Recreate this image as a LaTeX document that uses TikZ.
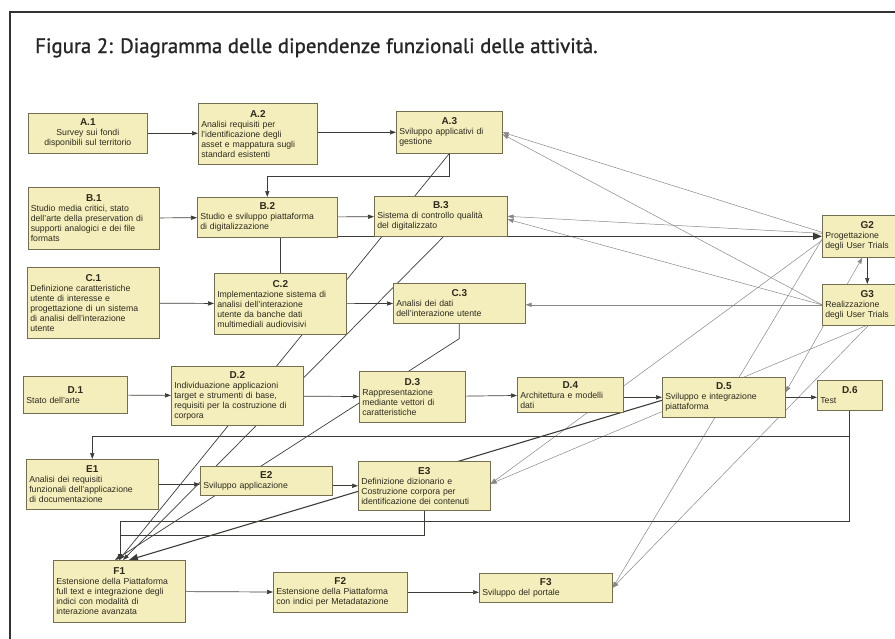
\documentclass[tikz,border=0pt]{standalone}
\usepackage{fontspec}
\setmainfont{Liberation Sans}
\newfontfamily\titlefont[FakeBold=1.2]{PT Sans}
\usepackage{tikz}
\usetikzlibrary{arrows.meta,positioning,backgrounds}

\definecolor{boxfill}{RGB}{244,238,188}
\definecolor{boxline}{RGB}{115,110,80}
\definecolor{lncol}{RGB}{60,60,55}
\definecolor{glcol}{RGB}{135,135,135}
\definecolor{txtcol}{RGB}{45,42,30}
\newcommand{\bodyfont}{\fontsize{8.7}{10}\selectfont}
\newcommand{\hd}[1]{\makebox[\hsize]{\bfseries\fontsize{10}{11}\selectfont #1}\\}

\begin{document}
\begin{tikzpicture}[x=1pt, y=-1pt,
    every node/.style={font=\bodyfont},
    act/.style={draw=boxline, fill=boxfill, line width=0.6pt, anchor=north west,
                inner sep=0pt, align=left, text=txtcol},
    e/.style={draw=lncol, line width=0.7pt, -{Triangle[length=6pt,width=4.2pt]}},
    ln/.style={draw=lncol, line width=0.7pt},
    hv/.style={draw=lncol, line width=1.1pt, -{Triangle[length=9pt,width=7pt]}},
    gl/.style={draw=glcol, line width=0.5pt, -{Triangle[length=6pt,width=4.2pt]}},
    gb/.style={draw=glcol, line width=0.5pt, {Triangle[length=6pt,width=4.2pt]}-{Triangle[length=6pt,width=4.2pt]}},
    frame/.style={draw=black!80, line width=1.3pt},
  ]
  \useasboundingbox (0,0) rectangle (895,638);
  \draw[frame] (10,640) -- (10,12) -- (897,12);
  \node[anchor=base west, inner sep=0pt, font=\titlefont\fontsize{20.8}{24}\selectfont, text=black!85] (title) at (35,53)
    {Figura 2: Diagramma delle dipendenze funzionali delle attività.};

  \node[act, minimum width=119pt, minimum height=40pt, text width=113pt, align=center] (a1) at (28,113)
    {\hd{A.1}Survey sui fondi\\disponibili sul territorio};
  \node[act, minimum width=119pt, minimum height=61pt, text width=113pt] (a2) at (198,103)
    {\hd{A.2}Analisi requisiti per\\l'identificazione degli\\asset e mappatura sugli\\standard esistenti};
  \node[act, minimum width=106pt, minimum height=42pt, text width=100pt] (a3) at (396,111)
    {\hd{A.3}Sviluppo applicativi di\\gestione};
  \node[act, minimum width=131pt, minimum height=62pt, text width=126pt] (b1) at (28,187)
    {\hd{B.1}Studio media critici, stato\\dell'arte della preservation di\\supporti analogici e dei file\\formats};
  \node[act, minimum width=140pt, minimum height=40pt, text width=134pt] (b2) at (197,197)
    {\hd{B.2}Studio e sviluppo piattaforma\\di digitalizzazione};
  \node[act, minimum width=133pt, minimum height=40pt, text width=127pt] (b3) at (374,196)
    {\hd{B.3}Sistema di controllo qualità\\del digitalizzato};
  \node[act, minimum width=132pt, minimum height=71pt, text width=126pt] (c1) at (27,267)
    {\hd{C.1}Definizione caratteristiche\\utente di interesse e\\progettazione di un sistema\\di analisi dell'interazione\\utente};
  \node[act, minimum width=132pt, minimum height=61pt, text width=126pt] (c2) at (214,273)
    {\hd{C.2}Implementazione sistema di\\analisi dell'interazione\\utente da banche dati\\multimediali audiovisivi};
  \node[act, minimum width=132pt, minimum height=40pt, text width=126pt] (c3) at (393,283)
    {\hd{C.3}Analisi dei dati\\dell'interazione utente};
  \node[act, minimum width=104pt, minimum height=37pt, text width=98pt] (d1) at (23,376)
    {\hd{D.1}Stato dell'arte};
  \node[act, minimum width=132pt, minimum height=59pt, text width=126pt] (d2) at (171,366)
    {\hd{D.2}Individuazione applicazioni\\target e strumenti di base,\\requisiti per la costruzione di\\corpora};
  \node[act, minimum width=106pt, minimum height=51pt, text width=100pt] (d3) at (359,371)
    {\hd{D.3}Rappresentazione\\mediante vettori di\\caratteristiche};
  \node[act, minimum width=106pt, minimum height=35pt, text width=100pt] (d4) at (517,377)
    {\hd{D.4}Architettura e modelli\\dati};
  \node[act, minimum width=123pt, minimum height=40pt, text width=117pt] (d5) at (662,377)
    {\hd{D.5}Sviluppo e integrazione\\piattaforma};
  \node[act, minimum width=65pt, minimum height=30pt, text width=59pt] (d6) at (817,380)
    {\hd{D.6}Test};
  \node[act, minimum width=90pt, minimum height=42pt, text width=84pt] (g2) at (822,215)
    {\hd{G2}Progettazione\\degli User Trials};
  \node[act, minimum width=90pt, minimum height=41pt, text width=84pt] (g3) at (822,284)
    {\hd{G3}Realizzazione\\degli User Trials};
  \node[act, minimum width=132pt, minimum height=50pt, text width=126pt] (e1) at (26,459)
    {\hd{E1}Analisi dei requisiti\\funzionali dell'applicazione\\di documentazione};
  \node[act, minimum width=132pt, minimum height=29pt, text width=126pt] (e2) at (200,466)
    {\hd{E2}Sviluppo applicazione};
  \node[act, minimum width=132pt, minimum height=49pt, text width=126pt] (e3) at (358,461)
    {\hd{E3}Definizione dizionario e\\Costruzione corpora per\\identificazione dei contenuti};
  \node[act, minimum width=132pt, minimum height=62pt, text width=126pt] (f1) at (53,560)
    {\hd{F1}Estensione della Piattaforma\\full text e integrazione degli\\indici con modalità di\\interazione avanzata};
  \node[act, minimum width=134pt, minimum height=40pt, text width=128pt] (f2) at (273,572)
    {\hd{F2}Estensione della Piattaforma\\con indici per Metadatazione};
  \node[act, minimum width=133pt, minimum height=29pt, text width=127pt] (f3) at (479,573)
    {\hd{F3}Sviluppo del portale};

  \begin{pgfonlayer}{background}
    % G lines
    \draw[gl] ([yshift=4pt]g2.west) -- (a3.east);
    \draw[gl] (g3.west) -- ([yshift=-2pt]a3.east);
    \draw[gl] ([yshift=3pt]g2.west) -- (b3.east);
    \draw[gl] (g3.west) -- ([yshift=-3pt]b3.east);
    \draw[gl] (g3.west) -- (c3.east |- g3.west);
    \draw[gl] ([yshift=-4pt]g2.west) -- ([yshift=2pt]e3.east);
    \draw[gl] ([xshift=-1pt]g3.south) -- ([yshift=2pt]e3.east);
    \draw[gl] ([yshift=-3pt]g2.west) -- (f3.east);
    \draw[gl] ([xshift=1pt]g3.south) -- (f3.east);
    \draw[gb] ([xshift=-5pt]g2.south) -- ([yshift=5pt]d5.east);
    \draw[e] (g2.south) -- (g3.north);
    % main flow
    \draw[e] (a1) -- (a2.west |- a1);
    \draw[e] (a2.east |- a3) -- (a3);
    \draw[e] (a3.south) -- ++(0,23) -| (b2.north);
    \draw[e] (b1) -- (b2);
    \draw[e] (b2) -- (b3);
    \draw[ln] (b2.south -| c2.north) -- (c2.north);
    \draw[hv] (b2.south east |- g2.west) -- (g2.west);
    \draw[e] (c1) -- (c2);
    \draw[e] (c2) -- (c3);
    \draw[e] (d1) -- (d2);
    \draw[e] (d2) -- (d3);
    \draw[e] (d3) -- (d4);
    \draw[e] (d4.east |- d5) -- (d5);
    \draw[e] (d5) -- (d6.west |- d5);
    \draw[e] (d6.south) -- ++(0,26) -| (e1.north);
    \draw[e] (d6.south) -- ++(0,111) -| ([xshift=67pt]f1.north west);
    \draw[e] (e3.south) -- ++(0,25) -| ([xshift=67pt]f1.north west);
    \draw[e] (e1.east) -- (e2.west |- e1.east);
    \draw[e] (e2.east |- e3) -- (e3);
    \draw[e] (f1) -- (f2);
    \draw[e] (f2) -- (f3.west |- f2);
    % into F1
    \draw[e] (a3.south) -- ([xshift=66pt]f1.north west);
    \draw[e] ([xshift=-64pt]b3.south east) -- ([xshift=70pt]f1.north west);
    \draw[e] (c3.south) -- ++(0,15) -- ([xshift=62pt]f1.north west);
    \draw[hv] ([yshift=-3pt]d5.west) -- ([xshift=76pt]f1.north west);
  \end{pgfonlayer}
\end{tikzpicture}
\end{document}
